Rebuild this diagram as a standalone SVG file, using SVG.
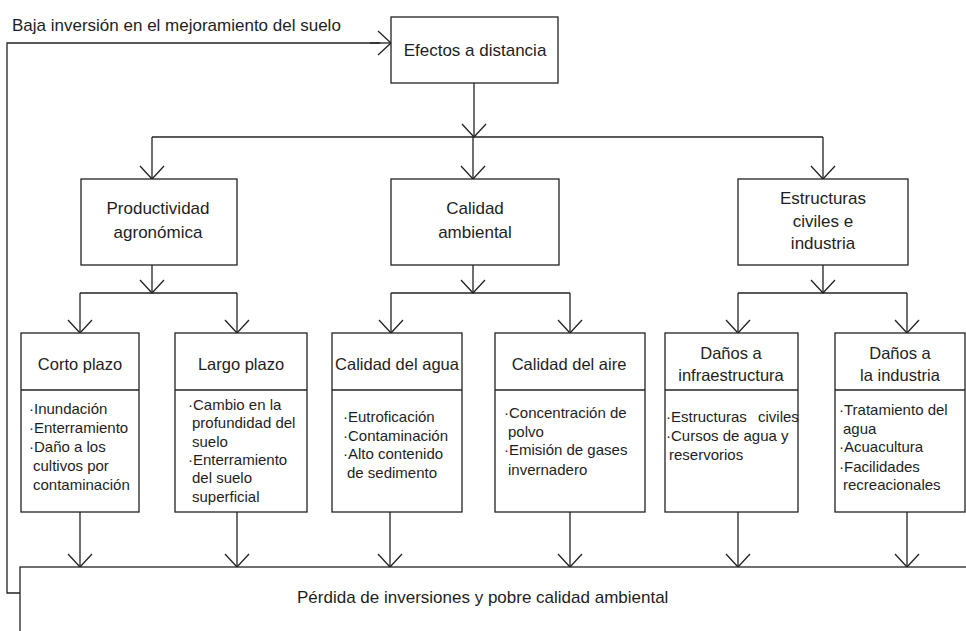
<svg xmlns="http://www.w3.org/2000/svg" width="966" height="631" viewBox="0 0 966 631">
  <style>
    .box { fill: #ffffff; stroke: #222; stroke-width: 1.3; }
    .wire { fill: none; stroke: #222; stroke-width: 1.3; }
    .arrow { fill: none; stroke: #222; stroke-width: 1.3; marker-end: url(#open-v); }
    text { font-family: "Liberation Sans", Arial, sans-serif; fill: #1e1e1e; }
    .t17 { font-size: 17px; }
    .hd { font-size: 16.5px; text-anchor: middle; }
    .mid { font-size: 17px; text-anchor: middle; }
    .item { font-size: 15px; }
  </style>
  <defs>
    <marker id="open-v" viewBox="-16 -16 32 32" markerWidth="32" markerHeight="32" refX="0" refY="0" orient="auto" markerUnits="userSpaceOnUse" overflow="visible">
      <path d="M-13,-12 L0,0 L-13,12" fill="none" stroke="#222" stroke-width="1.3"/>
    </marker>
  </defs>

  <rect width="966" height="631" fill="#ffffff"/>

  <!-- connectors -->
  <g id="connectors">
    <!-- feedback loop from the bottom bar back to the top box -->
    <path class="wire" d="M20,593 H7 V43 H380"/>
    <path class="arrow" d="M370,43 H391"/>
    <!-- top level -->
    <path class="arrow" d="M474,83 V137"/>
    <path class="wire" d="M152,137 H823"/>
    <path class="arrow" d="M152,137 V179"/>
    <path class="arrow" d="M473,137 V179"/>
    <path class="arrow" d="M823,137 V179"/>
    <!-- second level -->
    <path class="arrow" d="M152,265 V293"/>
    <path class="wire" d="M80,293 H237"/>
    <path class="arrow" d="M80,293 V333"/>
    <path class="arrow" d="M237,293 V333"/>
    <path class="arrow" d="M473,265 V293"/>
    <path class="wire" d="M391,293 H570"/>
    <path class="arrow" d="M391,293 V333"/>
    <path class="arrow" d="M570,293 V333"/>
    <path class="arrow" d="M823,265 V293"/>
    <path class="wire" d="M738,293 H907"/>
    <path class="arrow" d="M738,293 V333"/>
    <path class="arrow" d="M907,293 V333"/>
    <!-- into the bottom bar -->
    <path class="arrow" d="M80,512 V567"/>
    <path class="arrow" d="M237,512 V567"/>
    <path class="arrow" d="M390,512 V567"/>
    <path class="arrow" d="M570,512 V567"/>
    <path class="arrow" d="M738,512 V567"/>
    <path class="arrow" d="M907,512 V567"/>
  </g>

  <text class="t17" x="12" y="31">Baja inversión en el mejoramiento del suelo</text>

  <g id="efectos">
    <rect class="box" x="391" y="17" width="167" height="66"/>
    <text class="mid" x="475" y="56">Efectos a distancia</text>
  </g>

  <g id="productividad">
    <rect class="box" x="81" y="179" width="156" height="86"/>
    <text class="mid" x="158" y="214">Productividad</text>
    <text class="mid" x="158" y="238">agronómica</text>
  </g>

  <g id="calidad-ambiental">
    <rect class="box" x="391" y="179" width="168" height="86"/>
    <text class="mid" x="475" y="214">Calidad</text>
    <text class="mid" x="475" y="238">ambiental</text>
  </g>

  <g id="estructuras">
    <rect class="box" x="738" y="179" width="170" height="86"/>
    <text class="mid" x="823" y="204">Estructuras</text>
    <text class="mid" x="823" y="227">civiles e</text>
    <text class="mid" x="823" y="249">industria</text>
  </g>

  <g id="corto-plazo">
    <rect class="box" x="21" y="333" width="118" height="179"/>
    <line class="wire" x1="21" y1="390" x2="139" y2="390"/>
    <text class="hd" x="80" y="370">Corto plazo</text>
    <text class="item" x="29" y="414">·Inundación</text>
    <text class="item" x="29" y="433">·Enterramiento</text>
    <text class="item" x="29" y="452">·Daño a los</text>
    <text class="item" x="33" y="471">cultivos por</text>
    <text class="item" x="33" y="490">contaminación</text>
  </g>

  <g id="largo-plazo">
    <rect class="box" x="175" y="333" width="132" height="179"/>
    <line class="wire" x1="175" y1="390" x2="307" y2="390"/>
    <text class="hd" x="241" y="370">Largo plazo</text>
    <text class="item" x="188" y="410">·Cambio en la</text>
    <text class="item" x="192" y="428">profundidad del</text>
    <text class="item" x="192" y="447">suelo</text>
    <text class="item" x="188" y="465">·Enterramiento</text>
    <text class="item" x="192" y="483">del suelo</text>
    <text class="item" x="192" y="502">superficial</text>
  </g>

  <g id="calidad-agua">
    <rect class="box" x="332" y="333" width="130" height="179"/>
    <line class="wire" x1="332" y1="390" x2="462" y2="390"/>
    <text class="hd" x="397" y="370">Calidad del agua</text>
    <text class="item" x="343" y="422">·Eutroficación</text>
    <text class="item" x="343" y="441">·Contaminación</text>
    <text class="item" x="343" y="459">·Alto contenido</text>
    <text class="item" x="347" y="478">de sedimento</text>
  </g>

  <g id="calidad-aire">
    <rect class="box" x="495" y="333" width="150" height="179"/>
    <line class="wire" x1="495" y1="390" x2="645" y2="390"/>
    <text class="hd" x="569" y="370">Calidad del aire</text>
    <text class="item" x="504" y="418">·Concentración de</text>
    <text class="item" x="508" y="437">polvo</text>
    <text class="item" x="504" y="455">·Emisión de gases</text>
    <text class="item" x="508" y="475">invernadero</text>
  </g>

  <g id="danos-infraestructura">
    <rect class="box" x="665" y="333" width="133" height="179"/>
    <line class="wire" x1="665" y1="390" x2="798" y2="390"/>
    <text class="hd" x="731" y="359">Daños a</text>
    <text class="hd" x="731" y="381">infraestructura</text>
    <text class="item" x="666" y="422" word-spacing="7">·Estructuras civiles</text>
    <text class="item" x="666" y="441">·Cursos de agua y</text>
    <text class="item" x="669" y="460">reservorios</text>
  </g>

  <g id="danos-industria">
    <rect class="box" x="835" y="333" width="130" height="179"/>
    <line class="wire" x1="835" y1="390" x2="965" y2="390"/>
    <text class="hd" x="900" y="359">Daños a</text>
    <text class="hd" x="900" y="381">la industria</text>
    <text class="item" x="839" y="415">·Tratamiento del</text>
    <text class="item" x="843" y="434">agua</text>
    <text class="item" x="839" y="452">·Acuacultura</text>
    <text class="item" x="839" y="472">·Facilidades</text>
    <text class="item" x="843" y="490">recreacionales</text>
  </g>

  <g id="perdida">
    <rect class="box" x="20" y="567" width="970" height="90"/>
    <text class="t17" x="297" y="603">Pérdida de inversiones y pobre calidad ambiental</text>
  </g>
</svg>
